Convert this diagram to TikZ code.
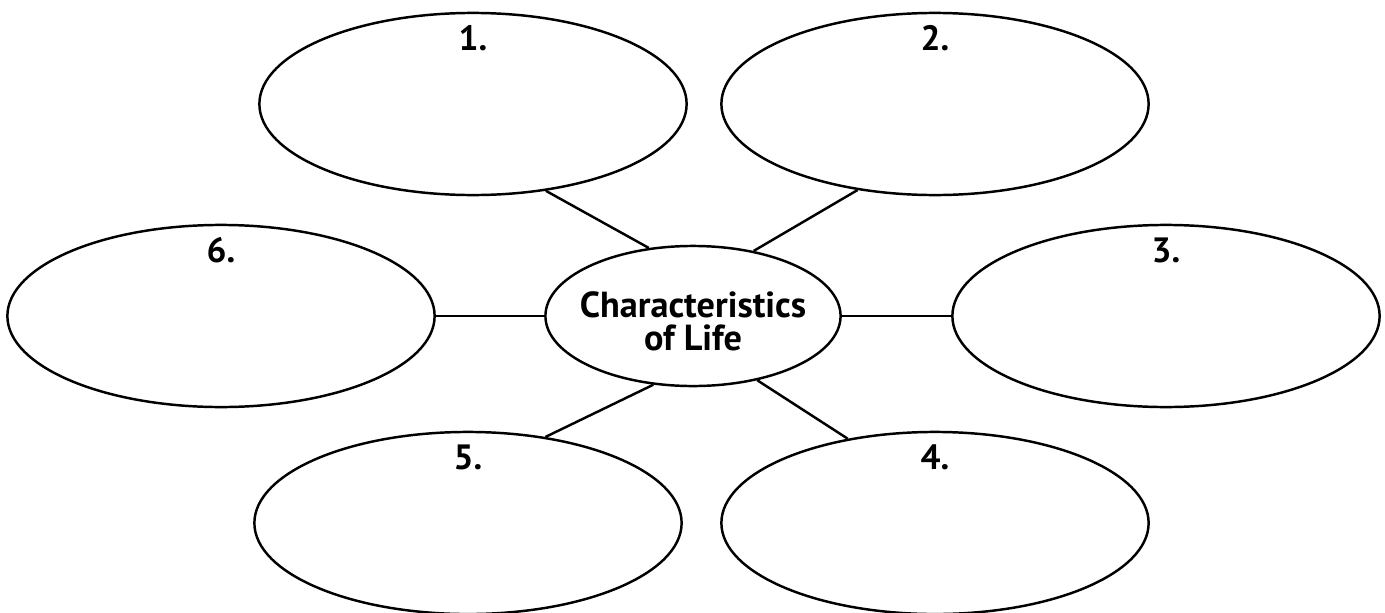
\documentclass[tikz,border=0pt]{standalone}
\usepackage{fontspec}
\setmainfont{PT Sans}
\usetikzlibrary{shapes.geometric}

\tikzset{
  bubble/.style={draw, ellipse, line width=0.7pt, inner sep=0pt,
    minimum width=4.27cm, minimum height=1.82cm},
  hub/.style={draw, ellipse, line width=0.7pt, inner sep=0pt,
    minimum width=2.95cm, minimum height=1.4cm},
  title/.style={align=center, inner sep=0pt,
    font=\fontsize{10.3}{9.4}\selectfont\bfseries},
  num/.style={anchor=base, inner sep=0pt, font=\fontsize{10}{12}\selectfont\bfseries},
  spoke/.style={line width=0.7pt}
}

\begin{document}
\begin{tikzpicture}[x=0.01cm, y=-0.01cm]
\useasboundingbox (0,0) rectangle (1385,612);

% centre
\node[hub] (life) at (693,316) {};
\node[title] (lifetext) at ([yshift=-0.05cm]life.center) {Characteristics\\of Life};

% the six bubbles
\node[bubble] (e1) at (473,104) {};
\node[bubble] (e2) at (935,104) {};
\node[bubble] (e3) at (1166,316) {};
\node[bubble] (e4) at (935,523) {};
\node[bubble] (e5) at (468,523) {};
\node[bubble] (e6) at (221,316) {};

\node[num] (n1) at ([yshift=-0.39cm]e1.north) {1.};
\node[num] (n2) at ([yshift=-0.39cm]e2.north) {2.};
\node[num] (n3) at ([yshift=-0.39cm]e3.north) {3.};
\node[num] (n4) at ([yshift=-0.39cm]e4.north) {4.};
\node[num] (n5) at ([yshift=-0.39cm]e5.north) {5.};
\node[num] (n6) at ([yshift=-0.39cm]e6.north) {6.};

% spokes
\draw[spoke] (e1.-50) -- (life.123);
\draw[spoke] (e2.-132) -- (life.47);
\draw[spoke] (e3.west) -- (life.east);
\draw[spoke] (e4.136) -- (life.-45);
\draw[spoke] (e5.48) -- (life.-120);
\draw[spoke] (e6.east) -- (life.west);

\end{tikzpicture}
\end{document}
